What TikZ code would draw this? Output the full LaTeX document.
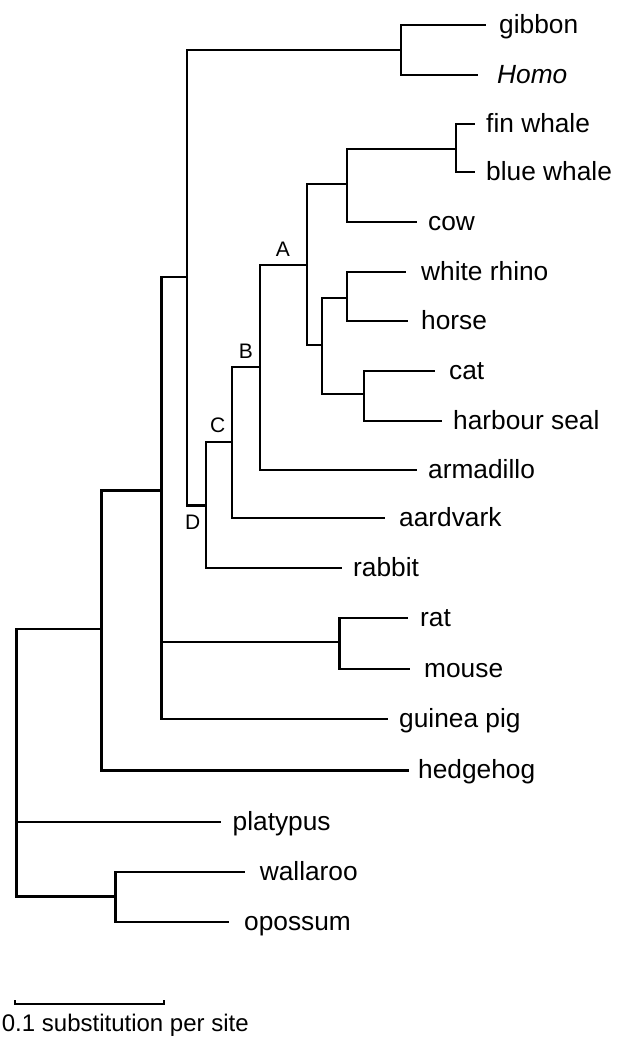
\documentclass[tikz,border=0pt]{standalone}
\usepackage{fontspec}
\setmainfont{Liberation Sans}
\begin{document}
\begin{tikzpicture}[x=1pt,y=-1pt,
  branch/.style={line width=2.9pt,line join=miter},
  leaf/.style={anchor=base west,inner sep=0pt,font=\fontsize{26.3}{30}\selectfont},
  nodelab/.style={anchor=center,inner sep=0pt,font=\fontsize{21}{24}\selectfont},
  scalelab/.style={anchor=base west,inner sep=0pt,font=\fontsize{24}{28}\selectfont}]
\useasboundingbox (0,0) rectangle (618,1037);
% internal nodes
\coordinate (root) at (16.5,822);
\coordinate (G) at (101.6,629);
\coordinate (F) at (161.5,490.7);
\coordinate (E) at (187,277);
\coordinate (P) at (401,50);
\coordinate (D) at (206,505.7);
\coordinate (C) at (232,442);
\coordinate (B) at (260,367);
\coordinate (A) at (307,265);
\coordinate (W) at (347,184);
\coordinate (Wh) at (456,149);
\coordinate (PC) at (322,345);
\coordinate (RH) at (347,298);
\coordinate (CS) at (364,394);
\coordinate (RM) at (339.5,642);
\coordinate (M) at (115.7,896.7);
% leaf tips
\coordinate (tgibbon) at (486,25);
\coordinate (thomo) at (478,75);
\coordinate (tfin) at (475,124);
\coordinate (tblue) at (475,172);
\coordinate (tcow) at (417,222);
\coordinate (trhino) at (405.5,272);
\coordinate (thorse) at (408,321);
\coordinate (tcat) at (435,371);
\coordinate (tseal) at (441.5,421);
\coordinate (tarma) at (416.5,470);
\coordinate (taard) at (385,518);
\coordinate (trabbit) at (341.7,568);
\coordinate (trat) at (407.5,618);
\coordinate (tmouse) at (410,669);
\coordinate (tguinea) at (388,719);
\coordinate (thedge) at (409.4,770.7);
\coordinate (tplaty) at (221.3,822);
\coordinate (twalla) at (245,872);
\coordinate (toposs) at (229,922);
% labels
\node[leaf] (lgibbon) at (499,33) {gibbon};
\node[leaf] (lhomo) at (497,83) {\itshape Homo};
\node[leaf] (lfin) at (486,132) {fin whale};
\node[leaf] (lblue) at (486,180) {blue whale};
\node[leaf] (lcow) at (428,230) {cow};
\node[leaf] (lrhino) at (421,280) {white rhino};
\node[leaf] (lhorse) at (421,329) {horse};
\node[leaf] (lcat) at (449,379) {cat};
\node[leaf] (lseal) at (453,429) {harbour seal};
\node[leaf] (larma) at (428,478) {armadillo};
\node[leaf] (laard) at (399,526) {aardvark};
\node[leaf] (lrabbit) at (353,576) {rabbit};
\node[leaf] (lrat) at (420,626) {rat};
\node[leaf] (lmouse) at (424,677) {mouse};
\node[leaf] (lguinea) at (399,727) {guinea pig};
\node[leaf] (lhedge) at (418,778.7) {hedgehog};
\node[leaf] (lplaty) at (232.5,830) {platypus};
\node[leaf] (lwalla) at (259.6,880) {wallaroo};
\node[leaf] (loposs) at (244,930) {opossum};
\node[nodelab] (labA) at (283,249) {A};
\node[nodelab] (labB) at (246,351) {B};
\node[nodelab] (labC) at (217.7,425.5) {C};
\node[nodelab] (labD) at (192.7,522) {D};
% branches
\draw[branch] (root) |- (G);
\draw[branch] (root) |- (tplaty);
\draw[branch] (root) |- (M);
\draw[branch] (M) |- (twalla);
\draw[branch] (M) |- (toposs);
\draw[branch] (G) |- (F);
\draw[branch] (G) |- (thedge);
\draw[branch] (F) |- (E);
\draw[branch] (F) |- (RM);
\draw[branch] (F) |- (tguinea);
\draw[branch] (RM) |- (trat);
\draw[branch] (RM) |- (tmouse);
\draw[branch] (E) |- (P);
\draw[branch] (E) |- (D);
\draw[branch] (P) |- (tgibbon);
\draw[branch] (P) |- (thomo);
\draw[branch] (D) |- (C);
\draw[branch] (D) |- (trabbit);
\draw[branch] (C) |- (B);
\draw[branch] (C) |- (taard);
\draw[branch] (B) |- (A);
\draw[branch] (B) |- (tarma);
\draw[branch] (A) |- (W);
\draw[branch] (A) |- (PC);
\draw[branch] (W) |- (Wh);
\draw[branch] (W) |- (tcow);
\draw[branch] (Wh) |- (tfin);
\draw[branch] (Wh) |- (tblue);
\draw[branch] (PC) |- (RH);
\draw[branch] (PC) |- (CS);
\draw[branch] (RH) |- (trhino);
\draw[branch] (RH) |- (thorse);
\draw[branch] (CS) |- (tcat);
\draw[branch] (CS) |- (tseal);
% scale bar
\coordinate (sb1) at (15,1000);
\coordinate (sb2) at (164,1000);
\draw[line width=1.3pt] (sb1) -- ++(0,4) -| (sb2);
\node[scalelab] (scaletext) at (1.7,1031.7) {0.1 substitution per site};
\end{tikzpicture}
\end{document}
